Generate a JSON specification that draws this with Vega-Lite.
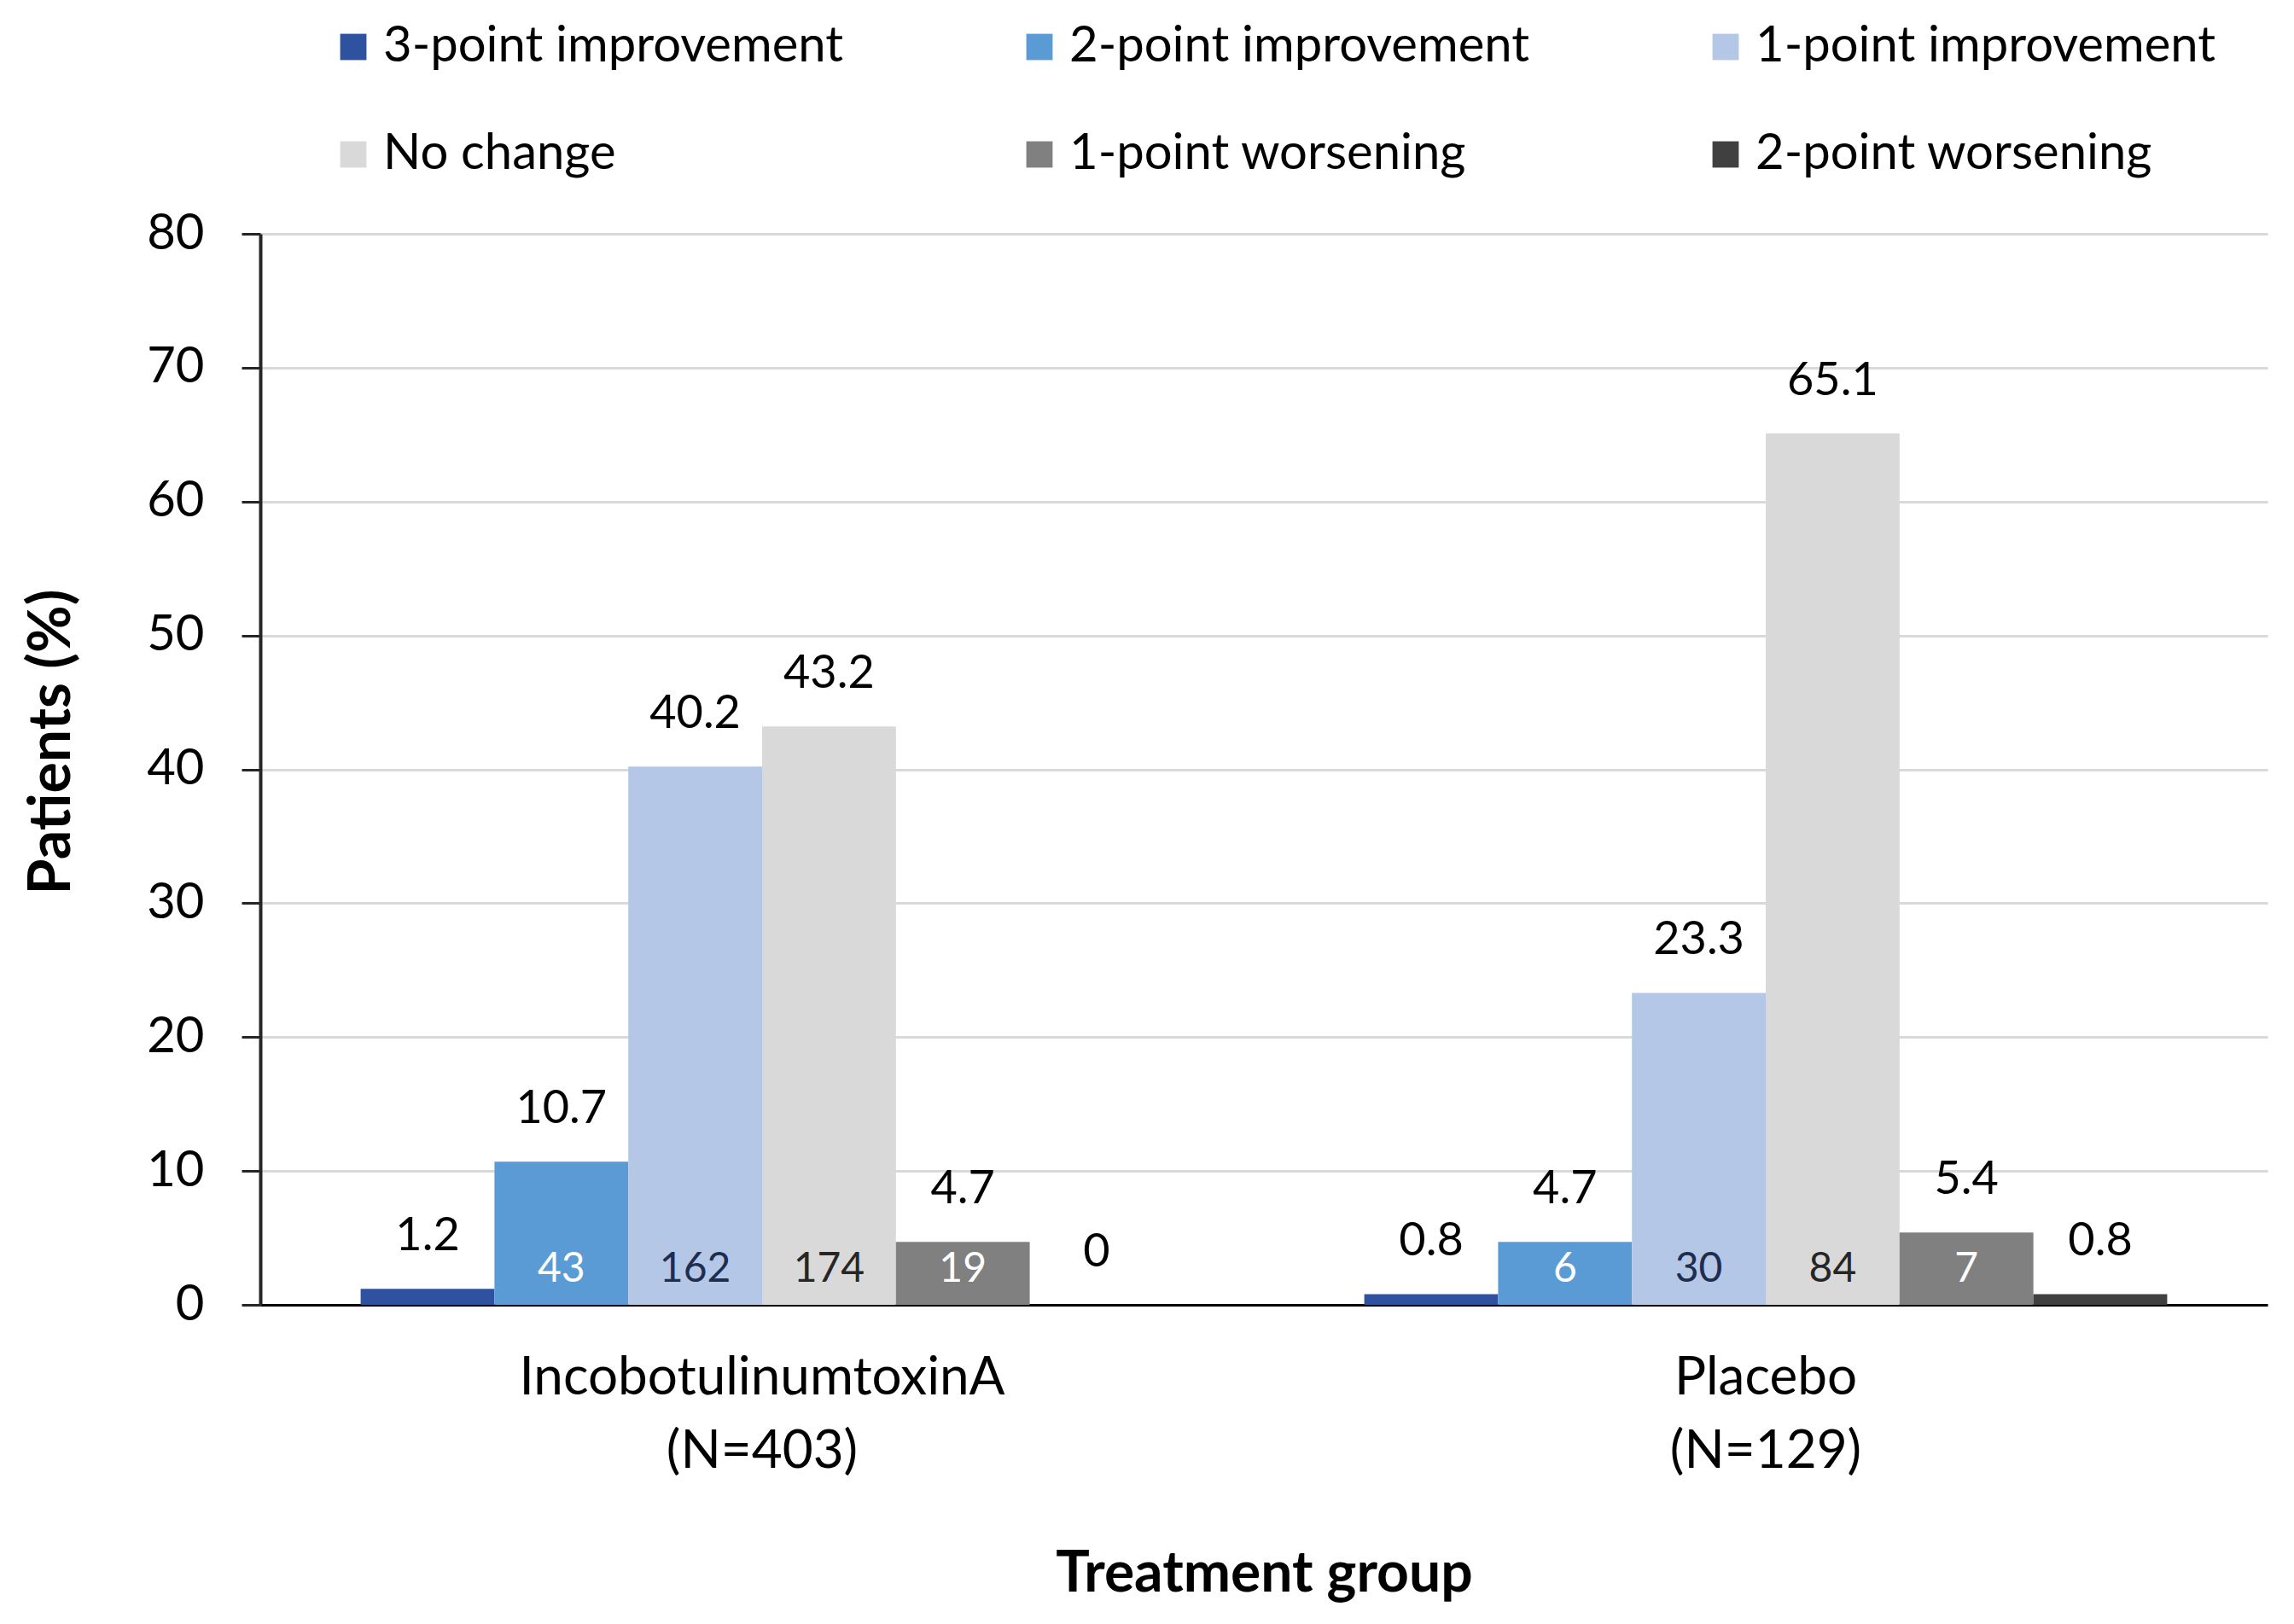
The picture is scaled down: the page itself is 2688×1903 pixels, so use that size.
{
  "$schema": "https://vega.github.io/schema/vega-lite/v6.json",
  "width": 2352,
  "height": 1255,
  "autosize": {"type": "none"},
  "padding": {"left": 305, "top": 274, "right": 31, "bottom": 374},
  "background": "white",
  "config": {
    "view": {"stroke": null},
    "font": "Lato",
    "axisY": {
      "titleFont": "Lato",
      "titleFontSize": 68,
      "titleFontWeight": "bold",
      "titleColor": "black",
      "titlePadding": 76,
      "titleY": 595,
      "labelFont": "Lato",
      "labelFontSize": 58,
      "labelColor": "black",
      "labelPadding": 44,
      "tickSize": 22,
      "tickWidth": 3,
      "tickColor": "#262626",
      "domainColor": "#262626",
      "domainWidth": 4,
      "gridColor": "#d9d9d9",
      "gridWidth": 3
    }
  },
  "data": {
    "values": [
      {"group": "IncobotulinumtoxinA|(N=403)", "category": "3-point improvement", "pct": 1.2, "n": 5},
      {"group": "IncobotulinumtoxinA|(N=403)", "category": "2-point improvement", "pct": 10.7, "n": 43},
      {"group": "IncobotulinumtoxinA|(N=403)", "category": "1-point improvement", "pct": 40.2, "n": 162},
      {"group": "IncobotulinumtoxinA|(N=403)", "category": "No change", "pct": 43.2, "n": 174},
      {"group": "IncobotulinumtoxinA|(N=403)", "category": "1-point worsening", "pct": 4.7, "n": 19},
      {"group": "IncobotulinumtoxinA|(N=403)", "category": "2-point worsening", "pct": 0, "n": 0},
      {"group": "Placebo|(N=129)", "category": "3-point improvement", "pct": 0.8, "n": 1},
      {"group": "Placebo|(N=129)", "category": "2-point improvement", "pct": 4.7, "n": 6},
      {"group": "Placebo|(N=129)", "category": "1-point improvement", "pct": 23.3, "n": 30},
      {"group": "Placebo|(N=129)", "category": "No change", "pct": 65.1, "n": 84},
      {"group": "Placebo|(N=129)", "category": "1-point worsening", "pct": 5.4, "n": 7},
      {"group": "Placebo|(N=129)", "category": "2-point worsening", "pct": 0.8, "n": 1}
    ]
  },
  "encoding": {
    "x": {
      "field": "group",
      "type": "nominal",
      "sort": null,
      "scale": {"paddingInner": 0.2, "paddingOuter": 0.1},
      "axis": {
        "title": "Treatment group",
        "titleFont": "Lato",
        "titleFontSize": 66,
        "titleFontWeight": "bold",
        "titleColor": "black",
        "titlePadding": 83,
        "labelAngle": 0,
        "labelExpr": "split(datum.label, '|')",
        "labelFontSize": 62,
        "labelLineHeight": 86,
        "labelLimit": 2000,
        "labelColor": "black",
        "labelPadding": 55,
        "ticks": false,
        "domainColor": "black",
        "domainWidth": 3,
        "grid": false
      }
    },
    "xOffset": {
      "field": "category",
      "type": "nominal",
      "sort": ["3-point improvement", "2-point improvement", "1-point improvement", "No change", "1-point worsening", "2-point worsening"],
      "scale": {"paddingInner": 0, "paddingOuter": 0}
    }
  },
  "layer": [
    {
      "mark": {"type": "bar"},
      "encoding": {
        "y": {
          "field": "pct",
          "type": "quantitative",
          "scale": {"domain": [0, 80]},
          "axis": {"title": "Patients (%)", "values": [0, 10, 20, 30, 40, 50, 60, 70, 80]}
        },
        "color": {
          "field": "category",
          "type": "nominal",
          "sort": ["3-point improvement", "2-point improvement", "1-point improvement", "No change", "1-point worsening", "2-point worsening"],
          "scale": {
            "domain": ["3-point improvement", "2-point improvement", "1-point improvement", "No change", "1-point worsening", "2-point worsening"],
            "range": ["#2f52a0", "#5b9bd5", "#b4c7e7", "#d9d9d9", "#808080", "#404040"]
          },
          "legend": {
            "title": null,
            "orient": "none",
            "legendX": 80,
            "legendY": -248,
            "columns": 3,
            "direction": "horizontal",
            "symbolType": "square",
            "symbolSize": 950,
            "symbolStrokeWidth": 0,
            "labelFont": "Lato",
            "labelFontSize": 58,
            "labelColor": "black",
            "labelOffset": 6,
            "columnPadding": 200,
            "rowPadding": 68,
            "labelLimit": 2000
          }
        }
      }
    },
    {
      "mark": {"type": "text", "baseline": "middle", "dy": -61, "fontSize": 54, "color": "black"},
      "encoding": {
        "y": {"field": "pct", "type": "quantitative", "axis": {"title": "Patients (%)", "values": [0, 10, 20, 30, 40, 50, 60, 70, 80]}},
        "text": {"field": "pct", "type": "quantitative"}
      }
    },
    {
      "transform": [{"filter": "datum.category != '3-point improvement' && datum.category != '2-point worsening'"}],
      "mark": {"type": "text", "baseline": "middle", "fontSize": 48},
      "encoding": {
        "y": {"datum": 2.6, "type": "quantitative", "axis": {"title": "Patients (%)", "values": [0, 10, 20, 30, 40, 50, 60, 70, 80]}},
        "text": {"field": "n", "type": "quantitative"},
        "color": {
          "condition": [
            {"test": "datum.category == '2-point improvement' || datum.category == '1-point worsening'", "value": "white"},
            {"test": "datum.category == 'No change'", "value": "#262626"}
          ],
          "value": "#1f2d4f"
        }
      }
    }
  ]
}
